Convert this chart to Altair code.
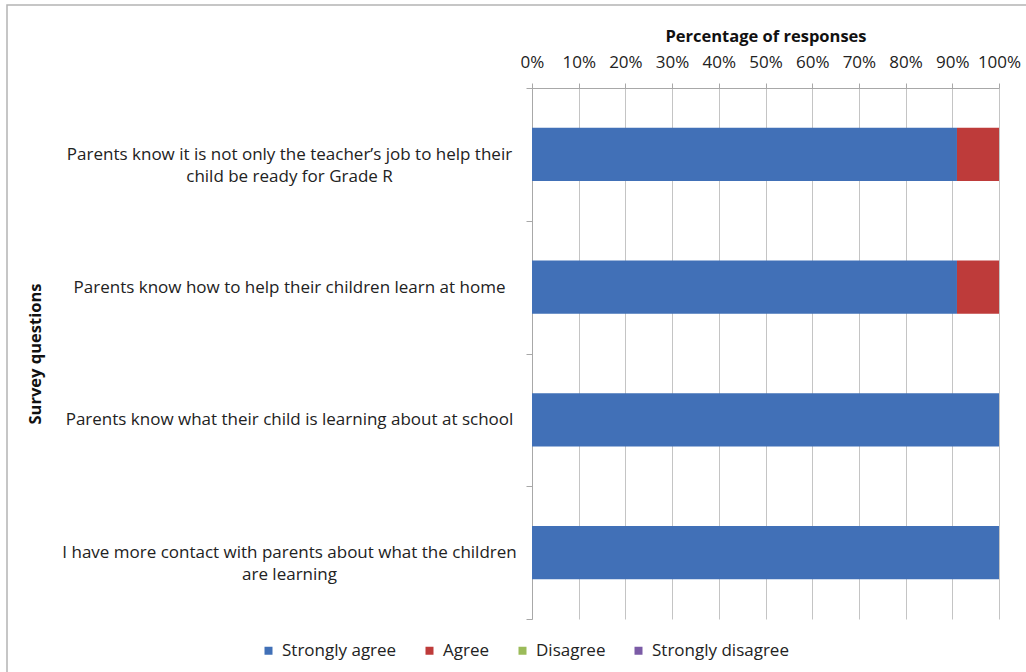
import altair as alt
import pandas as pd

# Survey questions (a "|" marks a line break in the axis label)
questions = [
    "Parents know it is not only the teacher’s job to help their|child be ready for Grade R",
    "Parents know how to help their children learn at home",
    "Parents know what their child is learning about at school",
    "I have more contact with parents about what the children|are learning",
]
responses = ["Strongly agree", "Agree", "Disagree", "Strongly disagree"]
colors = ["#4170B7", "#BE3B3A", "#9BBB59", "#7B5BA6"]

# Percentage of responses per question
strongly_agree = [91, 91, 100, 100]
agree = [9, 9, 0, 0]
disagree = [0, 0, 0, 0]
strongly_disagree = [0, 0, 0, 0]

series = [strongly_agree, agree, disagree, strongly_disagree]
rows = []
for r_idx, (resp, vals) in enumerate(zip(responses, series)):
    for q, v in zip(questions, vals):
        rows.append({"question": q, "response": resp, "value": v, "order": r_idx})
df = pd.DataFrame(rows)

FONT = "Open Sans"
FS = 17
TFS = 16.5
PLOT_W, PLOT_H = 467, 531
LEFT, TOP = 532, 88

bars = alt.Chart(df).mark_bar(height=alt.RelativeBandSize(0.4)).encode(
    x=alt.X(
        "value:Q",
        stack="zero",
        scale=alt.Scale(domain=[0, 100], nice=False),
        axis=alt.Axis(
            orient="top",
            values=list(range(0, 101, 10)),
            labelExpr="datum.value + '%'",
            labelOverlap=False,
            labelFlush=False,
            title="Percentage of responses",
            titleFontWeight="bold",
            titlePadding=9,
            tickSize=5,
            labelPadding=12,
            grid=True,
            gridColor="#C4C4C4",
            tickColor="#A8A8A8",
            domainColor="#A8A8A8",
        ),
    ),
    y=alt.Y(
        "question:N",
        sort=questions,
        scale=alt.Scale(domain=questions, paddingInner=0, paddingOuter=0),
        axis=alt.Axis(
            title="Survey questions",
            titleFontWeight="bold",
            titleAngle=270,
            titleX=-497,
            titleY=PLOT_H / 2,
            titleBaseline="middle",
            titleAlign="center",
            labelExpr="split(datum.label, '|')",
            labelAlign="center",
            labelBaseline="middle",
            labelLineHeight=22,
            labelPadding=237,
            labelLimit=600,
            tickSize=6,
            tickBand="extent",
            tickColor="#A8A8A8",
            domainColor="#A8A8A8",
            grid=False,
        ),
    ),
    color=alt.Color(
        "response:N",
        scale=alt.Scale(domain=responses, range=colors),
        legend=alt.Legend(
            title=None,
            orient="none",
            direction="horizontal",
            legendX=-272,
            legendY=554,
            symbolType="square",
            symbolSize=64,
            symbolStrokeWidth=0,
            labelOffset=5,
            columnPadding=24,
            padding=0,
        ),
    ),
    order=alt.Order("order:Q"),
)

# Thin frame around the whole figure
frame = alt.Chart(alt.Data(values=[{}])).mark_rect(
    fill=None, stroke="#B4B4B4", strokeWidth=1.5
).encode(
    x=alt.value(7 - LEFT),
    x2=alt.value(1200),
    y=alt.value(5 - TOP),
    y2=alt.value(900),
)

chart = (
    alt.layer(frame, bars)
    .properties(
        width=PLOT_W,
        height=PLOT_H,
        autosize=alt.AutoSizeParams(type="none"),
        padding={"left": LEFT, "top": TOP, "right": 1026 - LEFT - PLOT_W, "bottom": 672 - TOP - PLOT_H},
    )
    .configure(font=FONT)
    .configure_view(stroke=None)
    .configure_axis(
        labelFont=FONT,
        titleFont=FONT,
        labelFontSize=FS,
        titleFontSize=TFS,
        labelColor="#222222",
        titleColor="#111111",
    )
    .configure_legend(labelFont=FONT, labelFontSize=FS, labelColor="#222222")
)

chart.save("out.html", embed_options={"renderer": "svg", "actions": False})
